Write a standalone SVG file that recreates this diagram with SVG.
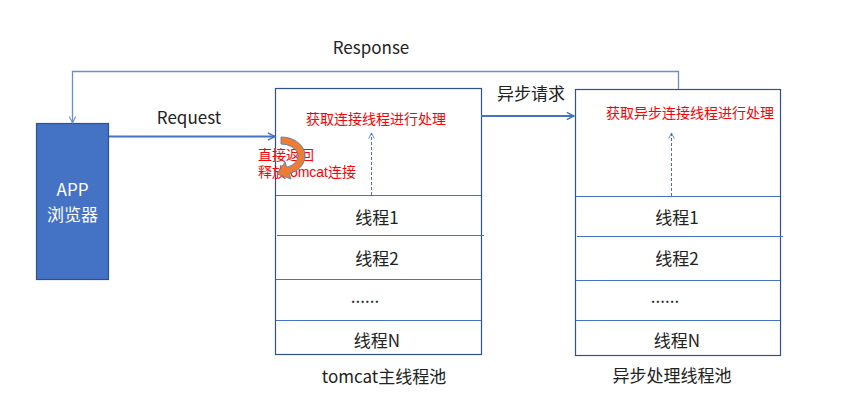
<svg xmlns="http://www.w3.org/2000/svg" width="845" height="401" viewBox="0 0 845 401">
  <style>
    .t { font-family: "Noto Sans CJK SC", "Liberation Sans", sans-serif; font-size: 17px; fill: #222222; }
    .w { font-family: "Noto Sans CJK SC", "Liberation Sans", sans-serif; font-size: 17px; fill: #ffffff; }
    .r { font-family: "Noto Sans CJK SC", "Liberation Sans", sans-serif; font-size: 14px; fill: #ff0000; }
    .rn { font-family: "Liberation Sans", "Noto Sans CJK SC", sans-serif; font-size: 14px; fill: #ff0000; }
    .box { fill: #ffffff; stroke: #2F528F; stroke-width: 1.2; }
    .row { stroke: #4472C4; stroke-width: 1.2; }
    .conn { fill: none; stroke: #4472C4; stroke-width: 2; }
    .thin { fill: none; stroke: #6A8ED0; stroke-width: 1.3; }
    .dash { fill: none; stroke: #4472C4; stroke-width: 1; stroke-dasharray: 3 2; }
  </style>
  <defs>
    <marker id="arr" viewBox="0 0 10 10" refX="9" refY="5" markerWidth="9" markerHeight="10" markerUnits="userSpaceOnUse" orient="auto">
      <path d="M1,1 L9,5 L1,9" fill="none" stroke="#4472C4" stroke-width="1.6"/>
    </marker>
    <marker id="arrThin" viewBox="0 0 10 10" refX="9" refY="5" markerWidth="8" markerHeight="10" markerUnits="userSpaceOnUse" orient="auto">
      <path d="M1,1 L9,5 L1,9" fill="none" stroke="#6A8ED0" stroke-width="1.3"/>
    </marker>
    <marker id="arrDash" viewBox="0 0 10 10" refX="9" refY="5" markerWidth="7" markerHeight="9" markerUnits="userSpaceOnUse" orient="auto">
      <path d="M1,1 L9,5 L1,9" fill="none" stroke="#4472C4" stroke-width="1.2"/>
    </marker>
  </defs>
  <rect width="845" height="401" fill="#ffffff"/>

  <g id="app">
    <rect x="36.5" y="123.5" width="72" height="156" fill="#4472C4" stroke="#2F528F" stroke-width="1.2"/>
    <text class="w" x="72.5" text-anchor="middle"><tspan x="72.5" y="196">APP</tspan><tspan x="72.5" y="221">浏览器</tspan></text>
  </g>

  <g id="tomcat-pool">
    <rect class="box" x="275.5" y="88.5" width="206" height="266"/>
    <line class="row" x1="276" y1="195.5" x2="481" y2="195.5"/>
    <line class="row" x1="277" y1="235.5" x2="484" y2="235.5"/>
    <line class="row" x1="276" y1="279.5" x2="481" y2="279.5"/>
    <line class="row" x1="276" y1="320.5" x2="481" y2="320.5"/>
    <text class="r" x="306" y="124">获取连接线程进行处理</text>
    <text class="t" x="377" y="224" text-anchor="middle">线程1</text>
    <text class="t" x="377" y="265" text-anchor="middle">线程2</text>
    <text class="t" x="365" y="303" text-anchor="middle">......</text>
    <text class="t" x="377" y="347" text-anchor="middle">线程N</text>
    <text class="t" x="384" y="383" text-anchor="middle" font-size="17.5">tomcat主线程池</text>
  </g>

  <g id="async-pool">
    <rect class="box" x="575.5" y="89.5" width="205" height="266"/>
    <line class="row" x1="576" y1="196.5" x2="780" y2="196.5"/>
    <line class="row" x1="577" y1="236.5" x2="783" y2="236.5"/>
    <line class="row" x1="576" y1="280.5" x2="780" y2="280.5"/>
    <line class="row" x1="576" y1="320.5" x2="780" y2="320.5"/>
    <text class="r" x="606" y="118">获取异步连接线程进行处理</text>
    <text class="t" x="677" y="224" text-anchor="middle">线程1</text>
    <text class="t" x="677" y="265" text-anchor="middle">线程2</text>
    <text class="t" x="665" y="303" text-anchor="middle">......</text>
    <text class="t" x="677" y="347" text-anchor="middle">线程N</text>
    <text class="t" x="672" y="382" text-anchor="middle" font-size="17.5">异步处理线程池</text>
  </g>

  <g id="return-note">
    <text class="rn" x="258" y="160">直接返回</text>
    <text class="rn" x="258" y="176.5">释放tomcat连接</text>
    <path d="M281 137 A24 19 0 0 1 289.2 173.9 L291 179 L277 174 L285 162 L286.8 167.3 A17 12 0 0 0 281 144 Z" fill="#ED7D31" stroke="#5A7CB8" stroke-width="0.9"/>
  </g>

  <g id="connectors">
    <line class="conn" x1="109" y1="136.5" x2="275" y2="136.5" marker-end="url(#arr)"/>
    <text class="t" x="189" y="124" text-anchor="middle" font-size="17.5">Request</text>
    <polyline class="thin" points="678.5,89 678.5,71.5 72.5,71.5 72.5,123" marker-end="url(#arrThin)"/>
    <text class="t" x="371" y="54" text-anchor="middle" font-size="17.5">Response</text>
    <line class="conn" x1="481" y1="116" x2="574" y2="116" marker-end="url(#arr)"/>
    <text class="t" x="531" y="100" text-anchor="middle" font-size="17.5">异步请求</text>
    <line class="dash" x1="371.5" y1="195" x2="371.5" y2="133" marker-end="url(#arrDash)"/>
    <line class="dash" x1="671.5" y1="196" x2="671.5" y2="133" marker-end="url(#arrDash)"/>
  </g>
</svg>
